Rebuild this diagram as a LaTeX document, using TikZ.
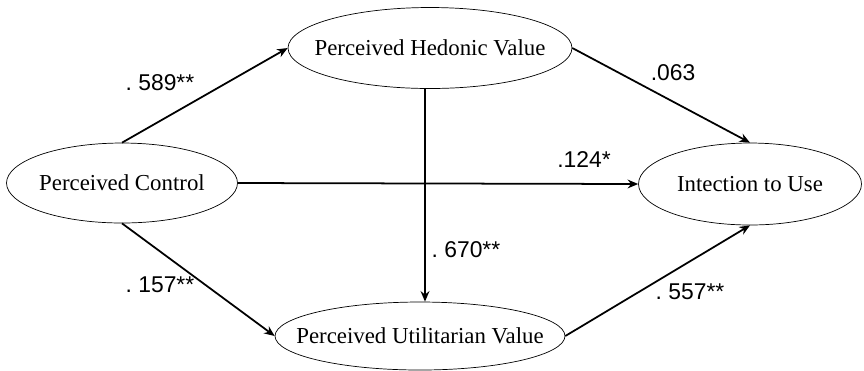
\documentclass[tikz,border=0pt]{standalone}
\usepackage{fontspec}
\usetikzlibrary{shapes.geometric,arrows.meta}
\setmainfont{Liberation Serif}
\newfontfamily\numfont{Liberation Sans}
\begin{document}
\begin{tikzpicture}[>={Stealth[length=6pt,width=5pt]},x=0.02cm,y=-0.02cm]
    \useasboundingbox (0,0) rectangle (864,370);
    \tikzset{latent/.style={ellipse,draw,inner sep=0pt},
             every label/.style={font=\fontsize{13}{15}\selectfont},
             coef/.style={font=\numfont\fontsize{13}{15}\selectfont}}

    \node[latent,minimum width=4.62cm,minimum height=1.6cm,label=center:Perceived Control] (ctrl) at (122,183) {};
    \node[latent,minimum width=5.68cm,minimum height=1.62cm,label=center:Perceived Hedonic Value] (hed) at (430,48) {};
    \node[latent,minimum width=4.46cm,minimum height=1.64cm,label=center:Intection to Use] (int) at (750,184) {};
    \node[latent,minimum width=5.8cm,minimum height=1.36cm,label=center:Perceived Utilitarian Value] (util) at (420,336) {};
    \coordinate (vx) at (425,0);

    \draw[->,line width=1pt] (ctrl.north) -- (hed.west);
    \draw[->,line width=1pt] (ctrl.east) -- (int.west);
    \draw[->,line width=1pt] (ctrl.south) -- (util.west);
    \draw[->,line width=1pt] (hed.east) -- (int.north);
    \draw[->,line width=1pt] (hed.south -| vx) -- (util.north -| vx);
    \draw[->,line width=1pt] (util.east) -- (int.south);

    \node[coef] (c1) at (160,83) {.~589**};
    \node[coef] (c2) at (673,73) {.063};
    \node[coef] (c3) at (584,160) {.124*};
    \node[coef] (c4) at (466,250) {.~670**};
    \node[coef] (c5) at (160,285) {.~157**};
    \node[coef] (c6) at (690,292) {.~557**};
\end{tikzpicture}
\end{document}
